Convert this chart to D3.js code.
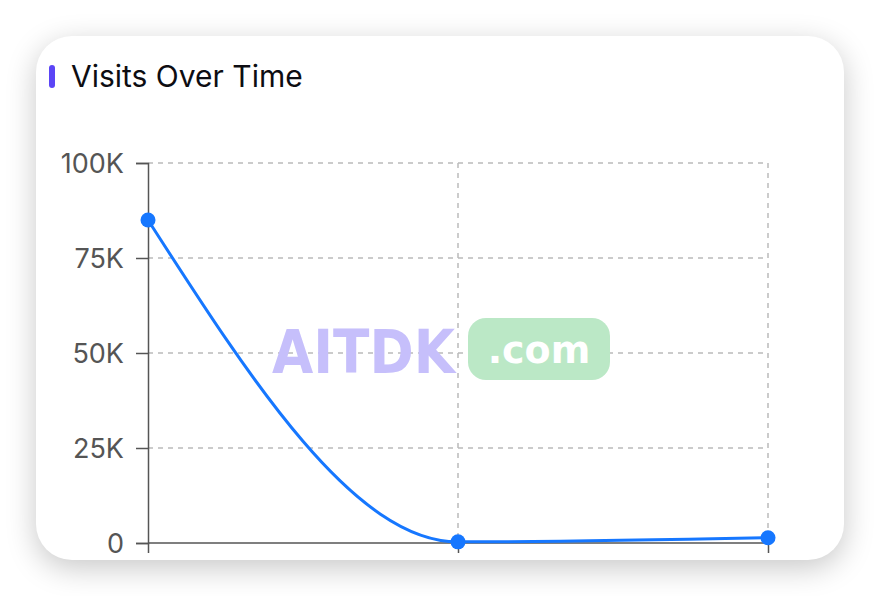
<!DOCTYPE html>
<html><head><meta charset="utf-8">
<script src="https://cdn.jsdelivr.net/npm/d3@7"></script>
<style>
html,body{margin:0;padding:0;background:#fff;width:880px;height:596px;overflow:hidden;}
#card{position:absolute;left:36px;top:36px;width:808px;height:524px;background:#fff;border-radius:36px;box-shadow:0 8px 30px rgba(0,0,0,0.22);overflow:hidden;}
svg{position:absolute;left:0;top:0;}
</style></head>
<body>
<div id="card"></div>
<svg id="chart" width="880" height="596"></svg>
<script>
const categories = ["Jan", "Feb", "Mar"];
const visits = [85000, 300, 1400];
const yTicks = [0, 25000, 50000, 75000, 100000];
const yTickLabels = ["0", "25K", "50K", "75K", "100K"];
const title = "Visits Over Time";

const svg = d3.select("#chart");
const defs = svg.append("defs");
defs.append("clipPath").attr("id","cardclip").append("rect")
  .attr("x",36).attr("y",36).attr("width",808).attr("height",524).attr("rx",36);

// title
svg.append("rect").attr("x",49).attr("y",65).attr("width",6).attr("height",23).attr("rx",3).attr("fill","#5b45f6");
svg.append("text").attr("x",71).attr("y",87).text(title)
  .attr("font-family","Inter, 'Noto Sans', sans-serif").attr("font-size",30).attr("fill","#0d0d12");

const g = svg.append("g").attr("clip-path","url(#cardclip)");

const x = d3.scalePoint().domain(categories).range([148, 768]);
const y = d3.scaleLinear().domain([0, 100000]).range([543, 163]);

// grid
g.append("g").selectAll("line").data(yTicks.slice(1)).join("line")
  .attr("x1",148).attr("x2",768).attr("y1",d=>y(d)).attr("y2",d=>y(d))
  .attr("stroke","#bbbbbb").attr("stroke-width",1.5).attr("stroke-dasharray","5,5");
g.append("g").selectAll("line").data(categories.slice(1)).join("line")
  .attr("x1",d=>x(d)).attr("x2",d=>x(d)).attr("y1",163).attr("y2",543)
  .attr("stroke","#bbbbbb").attr("stroke-width",1.5).attr("stroke-dasharray","5,5");

// watermark
const wm = g.append("g");
wm.append("text").attr("x",272).attr("y",373).text("AITDK")
  .attr("font-family","'DejaVu Sans', sans-serif").attr("font-weight","bold").attr("font-size",60)
  .attr("fill","#c6bffb").attr("textLength",183).attr("lengthAdjust","spacingAndGlyphs");
wm.append("rect").attr("x",468).attr("y",318).attr("width",142).attr("height",62).attr("rx",18).attr("fill","#bbe8c6");
wm.append("text").attr("x",539).attr("y",363).attr("text-anchor","middle").text(".com")
  .attr("font-family","'DejaVu Sans', sans-serif").attr("font-weight","bold").attr("font-size",38).attr("fill","#fff");

// axes
const yAxis = d3.axisLeft(y).tickValues(yTicks).tickFormat((d,i)=>yTickLabels[i]).tickSize(12).tickPadding(12);
const ya = g.append("g").attr("transform","translate(148,0)").call(yAxis);
ya.select(".domain").attr("stroke","#555").attr("stroke-width",1.5);
ya.selectAll(".tick line").attr("stroke","#555").attr("stroke-width",1.5);
ya.selectAll("text").attr("font-family","Inter, 'Liberation Sans', Arial, sans-serif").attr("font-size",27).attr("fill","#555").attr("dy","0.36em");

const xAxis = d3.axisBottom(x).tickSize(10).tickPadding(8);
const xa = g.append("g").attr("transform","translate(0,543)").call(xAxis);
xa.select(".domain").attr("stroke","#555").attr("stroke-width",1.5).attr("d","M148,0H768");
xa.selectAll(".tick line").attr("stroke","#555").attr("stroke-width",1.5);
xa.selectAll("text").attr("font-family","Inter, 'Liberation Sans', Arial, sans-serif").attr("font-size",22).attr("fill","#555");

// line
const line = d3.line().x((d,i)=>x(categories[i])).y(d=>y(d)).curve(d3.curveMonotoneX);
g.append("path").datum(visits).attr("d",line).attr("fill","none").attr("stroke","#1677ff").attr("stroke-width",3);
g.append("g").selectAll("circle").data(visits).join("circle")
  .attr("cx",(d,i)=>x(categories[i])).attr("cy",d=>y(d)).attr("r",7.5).attr("fill","#1677ff");
</script>
</body></html>
